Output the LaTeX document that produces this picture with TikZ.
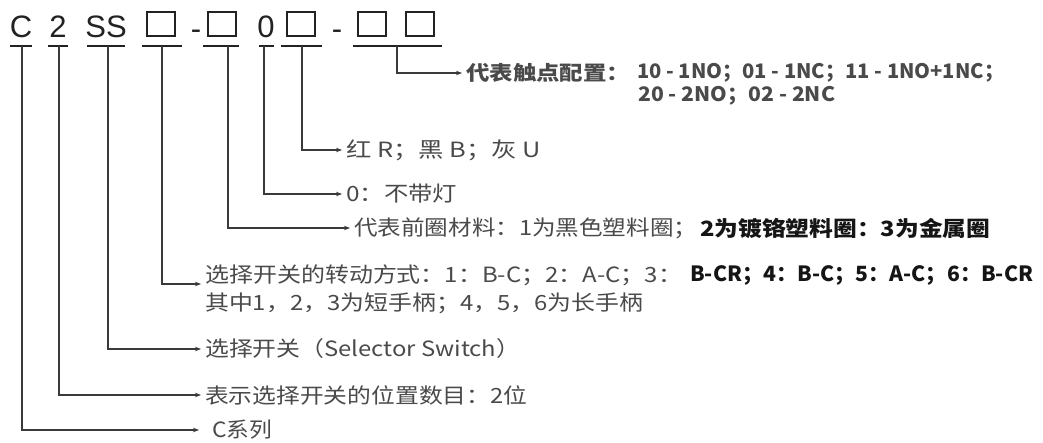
\documentclass[tikz,border=0pt]{standalone}
\usepackage{graphicx}
\usepackage{fontspec}
\setmainfont{Liberation Sans}
\newfontfamily\cjk{Noto Sans CJK SC}
\usetikzlibrary{arrows.meta}
\definecolor{linec}{HTML}{3A3A3A}
\definecolor{codec}{HTML}{222222}
\definecolor{txtc}{HTML}{4A4A4A}
\definecolor{boldc}{HTML}{151515}
\newcommand{\fitw}[2]{\resizebox{#1pt}{\height}{#2}}
\begin{document}
\begin{tikzpicture}[x=1pt,y=-1pt,
  conn/.style={draw=linec, line width=1.2pt, -{Stealth[length=6pt,width=4.5pt]}, shorten >=4pt},
  uline/.style={draw=codec, line width=2.4pt},
  codech/.style={font=\fontsize{31}{31}\selectfont, text=codec, inner sep=0pt, anchor=base},
  codebox/.style={draw=codec, line width=1.6pt, minimum width=28pt, minimum height=24pt, inner sep=0pt, anchor=south},
  desc/.style={font=\cjk\fontsize{21}{21}\selectfont, text=txtc, inner sep=0pt, anchor=west},
  descb/.style={desc, font=\cjk\bfseries\fontsize{21}{21}\selectfont, text=boldc},
  descm/.style={desc, font=\cjk\bfseries\fontsize{20}{20}\selectfont, text=txtc}
]
\useasboundingbox[fill=white] (0,0) rectangle (1043,443);

% code row
\node[codech] (kC) at (21,38) {C};
\node[codech] (k2) at (58,38) {2};
\node[codech] (kS) at (106,38) {SS};
\node[codebox] (b1) at (161,37) {};
\node[codech] (d1) at (196,40) {-};
\node[codebox] (b2) at (222,37) {};
\node[codech] (k0) at (266,38) {0};
\node[codebox] (b3) at (301,37) {};
\node[codech] (d2) at (337,40) {-};
\node[codebox] (b4) at (372,37) {};
\node[codebox] (b5) at (420,37) {};

% underlines
\draw[uline] (10,46) -- (32,46);
\draw[uline] (48,46) -- (68,46);
\draw[uline] (87,46) -- (125,46);
\draw[uline] (142,46) -- (182,46);
\draw[uline] (203,46) -- (239,46);
\draw[uline] (259,46) -- (274,46);
\draw[uline] (281,46) -- (322,46);
\draw[uline] (353,46) -- (442,46);

% stem tops
\coordinate (s1) at (22,46);
\coordinate (s2) at (59,46);
\coordinate (s3) at (108,46);
\coordinate (s4) at (162,46);
\coordinate (s5) at (228,46);
\coordinate (s6) at (264,46);
\coordinate (s7) at (302,46);
\coordinate (s8) at (397,46);

% descriptions
\node[descm] (t8) at (466,73) {\fitw{164}{代表触点配置：}};
\node[descm] (t8x) at (637,73) {\fitw{367}{10 - 1NO；01 - 1NC；11 - 1NO+1NC；}};
\node[descm] (t8b) at (638,96) {\fitw{197}{20 - 2NO；02 - 2NC}};
\node[desc] (t7) at (346,150) {\fitw{195}{红 R；黑 B；灰 U}};
\node[desc] (t6) at (346,194) {\fitw{111}{0：不带灯}};
\node[desc] (t5) at (354,228) {\fitw{343}{代表前圈材料：1为黑色塑料圈；}};
\node[descb] (t5x) at (700,228) {\fitw{290}{2为镀铬塑料圈：3为金属圈}};
\node[desc] (t4) at (205,275) {\fitw{477}{选择开关的转动方式：1：B-C；2：A-C；3：}};
\node[descb] (t4x) at (690,275) {\fitw{343}{B-CR；4：B-C；5：A-C；6：B-CR}};
\node[desc] (t4b) at (205,303) {\fitw{438}{其中1，2，3为短手柄；4，5，6为长手柄}};
\node[desc] (t3) at (205,349) {\fitw{315}{选择开关（Selector Switch）}};
\node[desc] (t2) at (205,395) {\fitw{322}{表示选择开关的位置数目：2位}};
\node[desc] (t1) at (212,430) {\fitw{60}{C系列}};

% connectors
\draw[conn] (s8) |- (t8.west);
\draw[conn] (s7) |- (t7.west);
\draw[conn] (s6) |- (t6.west);
\draw[conn] (s5) |- (t5.west);
\draw[conn] (s4) |- ([yshift=-9pt]t4.west);
\draw[conn] (s3) |- (t3.west);
\draw[conn] (s2) |- (t2.west);
\draw[conn] (s1) |- ([xshift=-9pt]t1.west);
\end{tikzpicture}
\end{document}
